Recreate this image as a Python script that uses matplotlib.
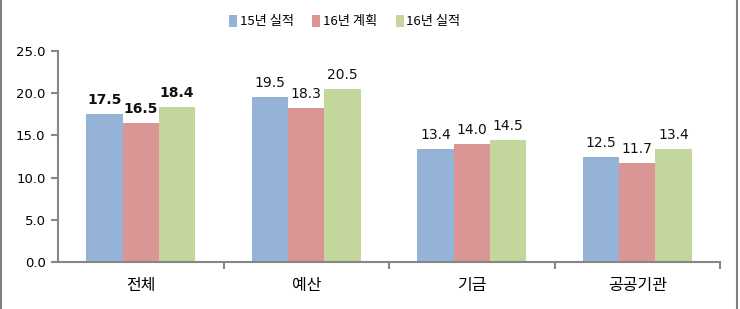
import matplotlib
matplotlib.use("Agg")
import matplotlib.pyplot as plt
import numpy as np
from matplotlib.patches import Rectangle

plt.rcParams['font.family'] = ['Noto Sans CJK KR', 'DejaVu Sans']

# data
categories = ['전체', '예산', '기금', '공공기관']
series_names = ['15년 실적', '16년 계획', '16년 실적']
actual_15 = [17.5, 19.5, 13.4, 12.5]
plan_16 = [16.5, 18.3, 14.0, 11.7]
actual_16 = [18.4, 20.5, 14.5, 13.4]
yticks = [0, 5, 10, 15, 20, 25]

colors = ['#95B3D7', '#D99694', '#C3D69B']
axis_gray = '#868686'

fig = plt.figure(figsize=(7.4, 3.09), dpi=100)
ax = fig.add_axes([0.0784, 0.152, 0.8946, 0.683])

x = np.arange(len(categories))
w = 0.22
all_series = [actual_15, plan_16, actual_16]
for k, (vals, name, c) in enumerate(zip(all_series, series_names, colors)):
    bars = ax.bar(x + (k - 1) * w, vals, w, color=c, label=name, zorder=2)
    for i, b in enumerate(bars):
        bold = (i == 0)  # first group is bold in the original
        ax.annotate(f'{vals[i]:.1f}', (b.get_x() + b.get_width() / 2, b.get_height()),
                    xytext=(0, 5), textcoords='offset points', ha='center', va='bottom',
                    fontsize=10, fontweight='bold' if bold else 'normal',
                    family='DejaVu Sans', color='#111111')

ax.set_xlim(-0.5, len(categories) - 0.5)
ax.set_ylim(0, 25)
ax.set_yticks(yticks)
ax.set_yticklabels([f'{v:.1f}' for v in yticks], family='DejaVu Sans', fontsize=9.5)
ax.set_xticks(x)
ax.set_xticklabels(categories, fontsize=11.5)
ax.set_xticks(np.arange(len(categories)) + 0.5, minor=True)
ax.tick_params(axis='x', which='major', length=0, pad=11)
ax.tick_params(axis='x', which='minor', length=5, width=1.5, color=axis_gray)
ax.tick_params(axis='y', length=5, width=1.5, color=axis_gray, pad=4)

for s in ['top', 'right']:
    ax.spines[s].set_visible(False)
for s in ['left', 'bottom']:
    ax.spines[s].set_color(axis_gray)
    ax.spines[s].set_linewidth(1.5)

ax.legend(loc='center', bbox_to_anchor=(0.466, 0.93), bbox_transform=fig.transFigure,
          ncol=3, frameon=False, fontsize=9.5, handlelength=0.6, handleheight=1.0,
          handletextpad=0.2, columnspacing=1.4)

# outer frame lines on left and right
fig.add_artist(Rectangle((0.0015, -0.01), 0.9945, 1.02, transform=fig.transFigure,
                         fill=False, edgecolor='#808080', linewidth=1.5))

fig.savefig('out.png', dpi=100)
